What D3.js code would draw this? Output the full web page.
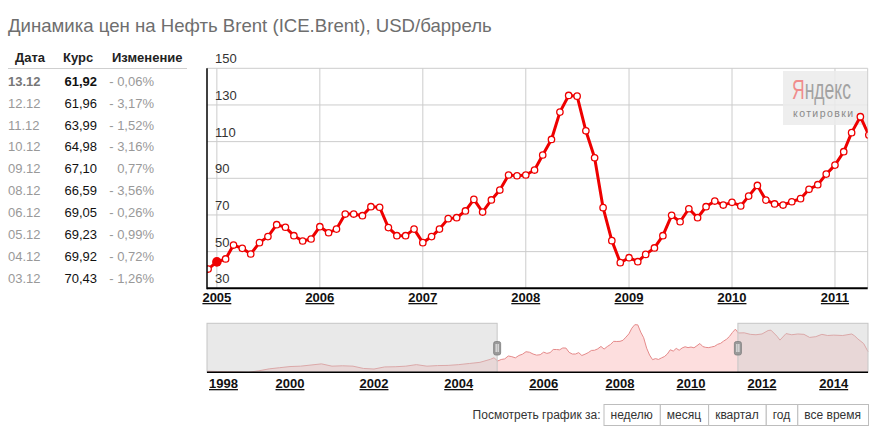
<!DOCTYPE html>
<html>
<head>
<meta charset="utf-8">
<script src="https://cdn.jsdelivr.net/npm/d3@7"></script>
<style>
  html, body { margin: 0; padding: 0; background: #fff; }
  svg { display: block; font-family: Arial, "Liberation Sans", sans-serif; }
</style>
</head>
<body>
<svg id="chart" width="883" height="442"></svg>
<script>
// ─── Data ───
var titleText = 'Динамика цен на Нефть Brent (ICE.Brent), USD/баррель';

var tableHeader = ['Дата', 'Курс', 'Изменение'];
var tableDates = ['13.12', '12.12', '11.12', '10.12', '09.12', '08.12', '06.12', '05.12', '04.12', '03.12'];
var tableRates = ['61,92', '61,96', '63,99', '64,98', '67,10', '66,59', '69,05', '69,23', '69,92', '70,43'];
var tableChanges = ['- 0,06%', '- 3,17%', '- 1,52%', '- 3,16%', '0,77%', '- 3,56%', '- 0,26%', '- 0,99%', '- 0,72%', '- 1,26%'];

// monthly prices, first value = Dec 2004
var priceYears = [2004, 2005, 2006, 2007, 2008, 2009, 2010, 2011];
var prices2004 = [40.5];
var prices2005 = [44.4, 46.0, 53.6, 51.8, 48.7, 54.9, 58.2, 64.7, 63.3, 58.7, 55.8, 56.9];
var prices2006 = [63.6, 60.3, 62.3, 70.5, 70.5, 69.6, 74.5, 74.2, 63.1, 58.7, 58.7, 62.3];
var prices2007 = [54.9, 58.2, 62.3, 68.0, 68.5, 72.2, 78.5, 71.6, 78.2, 83.6, 91.8, 91.4];
var prices2008 = [91.8, 94.5, 102.7, 111.2, 126.1, 135.2, 134.8, 115.9, 101.2, 74.0, 56.0, 44.0];
var prices2009 = [46.7, 44.5, 48.5, 52.0, 58.7, 69.8, 66.3, 73.4, 68.5, 74.5, 77.6, 75.4];
var prices2010 = [76.9, 74.9, 80.3, 86.1, 78.1, 76.0, 75.4, 77.2, 78.9, 84.0, 86.5, 92.3];
var prices2011 = [97.2, 104.5, 114.9, 123.6, 113.6];
var priceFirstMonth = [11, 0, 0, 0, 0, 0, 0, 0];

var yTicks = [30, 50, 70, 90, 110, 130, 150];

// navigator (whole history), decimal years
var navEarlyDates = [1998.0, 1998.25, 1998.5, 1998.75, 1999.0, 1999.25, 1999.5, 1999.75, 2000.0, 2000.25, 2000.5, 2000.75,
  2001.0, 2001.25, 2001.5, 2001.75, 2002.0, 2002.25, 2002.5, 2002.75, 2003.0, 2003.25, 2003.5, 2003.75,
  2004.0, 2004.25, 2004.5, 2004.75, 2004.83];
var navEarlyValues = [14, 13, 12.5, 12, 11, 15, 20, 23, 26, 27, 30, 33,
  27, 28, 27, 21, 19.5, 25, 25.5, 27, 31, 27, 28.5, 29,
  31, 34, 37, 45, 49];
var navLateDates = [2011.5, 2011.67, 2011.83, 2012.0, 2012.17, 2012.25, 2012.42, 2012.5, 2012.67, 2012.83,
  2013.0, 2013.17, 2013.33, 2013.5, 2013.67, 2013.83, 2014.0, 2014.25, 2014.5, 2014.58, 2014.67, 2014.83, 2014.95];
var navLateValues = [114, 110, 109, 111, 120, 121, 105, 95, 112, 109,
  111, 110, 102, 104, 110, 107, 108, 107, 111, 106, 98, 86, 65];
var navTickYears = [1998, 2000, 2002, 2004, 2006, 2008, 2010, 2012, 2014];

var periodButtons = ['неделю', 'месяц', 'квартал', 'год', 'все время'];

// ─── Build series ───
var priceBlocks = [prices2004, prices2005, prices2006, prices2007, prices2008, prices2009, prices2010, prices2011];
var series = [];
priceBlocks.forEach(function(block, bi) {
  block.forEach(function(v, mi) {
    series.push({ date: new Date(priceYears[bi], priceFirstMonth[bi] + mi, 1), value: v });
  });
});
function decYear(d) { return d.getFullYear() + d.getMonth() / 12 + (d.getDate() - 1) / 365; }

var navSeries = [];
navEarlyDates.forEach(function(d, i) { navSeries.push({ t: d, value: navEarlyValues[i] }); });
series.forEach(function(p) { navSeries.push({ t: decYear(p.date), value: p.value }); });
navLateDates.forEach(function(d, i) { navSeries.push({ t: d, value: navLateValues[i] }); });

// ─── Layout ───
var svg = d3.select('#chart');
var P = { left: 207, right: 867.7, top: 68.3, bottom: 288.3 };
var RED = '#ee0000';

svg.append('text').attr('x', 8).attr('y', 32).text(titleText)
  .attr('fill', '#6e6e6e').attr('font-size', '18.6px');

// ─── Table ───
var colX = [15, 63, 112];
tableHeader.forEach(function(h, i) {
  svg.append('text').attr('x', colX[i]).attr('y', 62).text(h)
    .attr('fill', '#222').attr('font-size', '13px').attr('font-weight', '700');
});
svg.append('line').attr('x1', 8).attr('x2', 187).attr('y1', 68.5).attr('y2', 68.5)
  .attr('stroke', '#cfcfcf').attr('stroke-width', 1);
tableDates.forEach(function(d, i) {
  var y = 85.7 + i * 21.9, first = i === 0;
  svg.append('text').attr('x', 8).attr('y', y).text(d)
    .attr('fill', first ? '#777' : '#999').attr('font-size', '13px').attr('font-weight', first ? '700' : '400');
  svg.append('text').attr('x', 97).attr('y', y).text(tableRates[i]).attr('text-anchor', 'end')
    .attr('fill', '#111').attr('font-size', '13px').attr('font-weight', first ? '700' : '400');
  svg.append('text').attr('x', 154).attr('y', y).text(tableChanges[i]).attr('text-anchor', 'end')
    .attr('fill', '#999').attr('font-size', '13px');
});

// ─── Main chart ───
var x = d3.scaleTime().domain([new Date(2004, 10, 27), new Date(2011, 3, 27)]).range([P.left, P.right]);
var y = d3.scaleLinear().domain([30, 150]).range([P.bottom, P.top]);
var years = x.ticks(d3.timeYear.every(1));

var grid = svg.append('g');
yTicks.slice(1).forEach(function(t) {
  grid.append('line').attr('x1', P.left).attr('x2', P.right).attr('y1', y(t)).attr('y2', y(t))
    .attr('stroke', '#cccccc').attr('stroke-width', 1);
});
years.concat([x.domain()[1]]).forEach(function(d) {
  grid.append('line').attr('x1', x(d)).attr('x2', x(d)).attr('y1', P.top).attr('y2', P.bottom)
    .attr('stroke', '#cccccc').attr('stroke-width', 1);
});
yTicks.forEach(function(t) {
  svg.append('text').attr('x', 215).attr('y', y(t) - 5).text(t)
    .attr('fill', '#333').attr('font-size', '13px');
});

// Yandex logo (condensed word mark)
var logo = svg.append('g');
logo.append('rect').attr('x', 783).attr('y', 71).attr('width', 84).attr('height', 54)
  .attr('fill', '#ebebeb').attr('opacity', 0.85);
var mark = logo.append('g');
var yaT = mark.append('text').attr('x', 0).attr('y', 0).attr('font-size', '27px').text('Я').attr('fill', '#f08c8c');
var yaW = yaT.node().getComputedTextLength();
var ndT = mark.append('text').attr('x', yaW).attr('y', 0).attr('font-size', '27px').text('ндекс').attr('fill', '#a2a2a2');
var markW = yaW + ndT.node().getComputedTextLength();
mark.attr('transform', 'translate(792,98.5) scale(' + (59 / markW) + ',1)');
logo.append('text').attr('x', 793).attr('y', 116.5).text('котировки').attr('font-size', '10.5px')
  .attr('fill', '#8a8a8a').attr('textLength', 60).attr('lengthAdjust', 'spacing');

svg.append('clipPath').attr('id', 'plot-clip').append('rect')
  .attr('x', P.left).attr('y', P.top - 10).attr('width', P.right - P.left).attr('height', P.bottom - P.top + 10);
var plot = svg.append('g').attr('clip-path', 'url(#plot-clip)');
var line = d3.line().x(function(d) { return x(d.date); }).y(function(d) { return y(d.value); });
plot.append('path').datum(series).attr('d', line).attr('fill', 'none')
  .attr('stroke', RED).attr('stroke-width', 3).attr('stroke-linejoin', 'round');
plot.selectAll('circle.pt').data(series.filter(function(d, i) { return i !== 1; })).join('circle')
  .attr('class', 'pt').attr('cx', function(d) { return x(d.date); }).attr('cy', function(d) { return y(d.value); })
  .attr('r', 3.2).attr('fill', '#fff').attr('stroke', RED).attr('stroke-width', 1.3);
// highlighted point (Jan 2005)
plot.append('circle').attr('cx', x(series[1].date)).attr('cy', y(series[1].value)).attr('r', 4.8).attr('fill', RED);

// axes
svg.append('line').attr('x1', P.left).attr('x2', P.left).attr('y1', P.top).attr('y2', P.bottom + 1)
  .attr('stroke', '#000').attr('stroke-width', 1.5);
svg.append('line').attr('x1', P.left).attr('x2', P.right).attr('y1', P.bottom).attr('y2', P.bottom)
  .attr('stroke', '#000').attr('stroke-width', 2);
years.forEach(function(d) {
  svg.append('text').attr('x', x(d)).attr('y', 302).text(d.getFullYear()).attr('text-anchor', 'middle')
    .attr('fill', '#111').attr('font-size', '13px').attr('font-weight', '700').attr('text-decoration', 'underline');
});

// ─── Navigator ───
var N = { left: 207, right: 868, top: 323.3, bottom: 372.3 };
var navX = d3.scaleLinear()
  .domain([1998, 2000, 2002, 2004, 2006, 2008, 2010, 2012, 2014, 2014.95])
  .range([N.left, 290, 374, 458.7, 543.7, 620, 691, 762, 833.7, N.right]);
var navY = d3.scaleLinear().domain(d3.extent(navSeries, function(d) { return d.value; })).range([N.bottom, 324.7]);
var area = d3.area().x(function(d) { return navX(d.t); }).y0(N.bottom).y1(function(d) { return navY(d.value); });
var navLine = d3.line().x(function(d) { return navX(d.t); }).y(function(d) { return navY(d.value); });
svg.append('path').datum(navSeries).attr('d', area).attr('fill', '#fddede');
svg.append('path').datum(navSeries).attr('d', navLine).attr('fill', 'none').attr('stroke', '#e58a8a').attr('stroke-width', 1);

var selL = navX(decYear(x.domain()[0])), selR = navX(decYear(x.domain()[1]));
[[N.left, selL], [selR, N.right]].forEach(function(r) {
  svg.append('rect').attr('x', r[0]).attr('y', N.top).attr('width', r[1] - r[0]).attr('height', N.bottom - N.top)
    .attr('fill', '#cfcfcf').attr('fill-opacity', 0.45).attr('stroke', '#c6c6c6').attr('stroke-width', 1);
});
svg.append('line').attr('x1', N.left).attr('x2', N.right).attr('y1', N.bottom).attr('y2', N.bottom)
  .attr('stroke', '#000').attr('stroke-width', 1.5);
[selL, selR].forEach(function(hx) {
  svg.append('rect').attr('x', hx - 3.5).attr('y', 341.5).attr('width', 7).attr('height', 13.5).attr('rx', 2)
    .attr('fill', '#9a9a9a').attr('stroke', '#7d7d7d').attr('stroke-width', 0.8);
  [-1, 1].forEach(function(o) {
    svg.append('line').attr('x1', hx + o).attr('x2', hx + o).attr('y1', 344).attr('y2', 352)
      .attr('stroke', '#fff').attr('stroke-width', 0.9);
  });
});
navTickYears.forEach(function(yr) {
  var t = svg.append('text').attr('y', 388).text(yr).attr('text-anchor', 'middle')
    .attr('fill', '#111').attr('font-size', '13px').attr('font-weight', '700').attr('text-decoration', 'underline');
  var w = t.node().getComputedTextLength();
  t.attr('x', Math.max(navX(yr), N.left + 2 + w / 2));
});

// ─── Period buttons ───
var btnG = svg.append('g');
var widths = periodButtons.map(function(b) {
  var t = btnG.append('text').attr('font-size', '12px').text(b);
  var w = t.node().getComputedTextLength();
  t.remove();
  return w + 14;
});
var bx = N.right - d3.sum(widths);
svg.append('text').attr('x', bx - 3).attr('y', 418.5).attr('text-anchor', 'end').text('Посмотреть график за:')
  .attr('fill', '#333').attr('font-size', '12px');
periodButtons.forEach(function(b, i) {
  btnG.append('rect').attr('x', bx + 0.5).attr('y', 404.5).attr('width', widths[i]).attr('height', 21)
    .attr('fill', '#fff').attr('stroke', '#bdbdbd').attr('stroke-width', 1);
  btnG.append('text').attr('x', bx + widths[i] / 2).attr('y', 418.5).attr('text-anchor', 'middle').text(b)
    .attr('fill', '#333').attr('font-size', '12px');
  bx += widths[i];
});
</script>
</body>
</html>
